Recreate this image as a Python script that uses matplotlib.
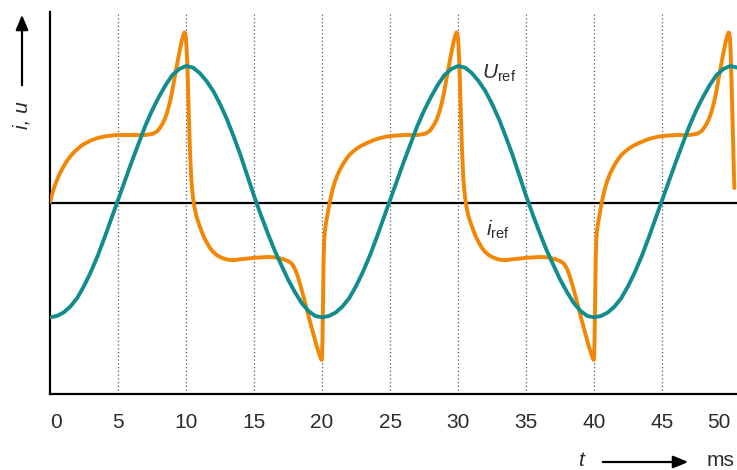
import numpy as np
import matplotlib
matplotlib.use("Agg")
import matplotlib.pyplot as plt
from matplotlib.patches import FancyArrowPatch

plt.rcParams["font.family"] = ["Liberation Sans", "DejaVu Sans"]
plt.rcParams["mathtext.fontset"] = "custom"
plt.rcParams["mathtext.rm"] = "Liberation Sans"
plt.rcParams["mathtext.it"] = "Liberation Sans:italic"

# time axis in ms
x_ticks = [0, 5, 10, 15, 20, 25, 30, 35, 40, 45, 50]
x_tick_labels = ["0", "5", "10", "15", "20", "25", "30", "35", "40", "45", "50"]
grid_ticks = [5, 10, 15, 20, 25, 30, 35, 40, 45]

# reference voltage (arbitrary units), sampled every 0.5 ms
u_t = np.arange(0, 50.51, 0.5)
u_ref = [
    -114.3, -113, -109.5, -103.5, -95, -83, -69, -53, -35, -16,
    3, 22, 41, 59, 77, 92.5, 106, 118, 128, 134,
    137, 135.5, 130, 122, 112, 99, 84, 66.5, 48, 27.5,
    7, -12, -30, -47, -62, -76.5, -89, -100, -108, -113,
    -114.3, -113, -109.5, -103.5, -95, -83, -69, -53, -35, -16,
    3, 22, 41, 59, 77, 92.5, 106, 118, 128, 134,
    137, 135.5, 130, 122, 112, 99, 84, 66.5, 48, 27.5,
    7, -12, -30, -47, -62, -76.5, -89, -100, -108, -113,
    -114.3, -113, -109.5, -103.5, -95, -83, -69, -53, -35, -16,
    3, 22, 41, 59, 77, 92.5, 106, 118, 128, 134,
    137, 135.5,
]

# reference current (same units), denser around the spikes
i_t = [
    # first half wave
    0.0, 0.1, 0.25, 0.37, 0.5, 0.65, 0.8, 1.0, 1.2, 1.4, 1.6, 1.8, 2.0, 2.25,
    2.5, 2.75, 3.0, 3.5, 4.0, 4.5, 5.0, 6.0, 7.0,
    7.5, 7.7, 7.9, 8.1, 8.3, 8.45, 8.6, 8.7, 8.8, 8.93, 9.05, 9.18, 9.3, 9.4,
    9.5, 9.6, 9.7, 9.8, 9.88,
    9.93, 9.98, 10.03, 10.08, 10.13, 10.18, 10.23, 10.28, 10.33, 10.38, 10.44,
    10.5, 10.58, 10.66, 10.75, 10.85, 11.0, 11.15, 11.3, 11.5, 11.76, 12.0,
    12.25, 12.5, 12.85, 13.2, 13.6, 14.0, 15.0, 16.0, 16.5, 16.9, 17.2, 17.5,
    17.8, 17.95, 18.1, 18.25, 18.4, 18.55, 18.7, 19.0, 19.3, 19.6, 19.75,
    19.85, 19.92, 19.97,
    20.0, 20.03, 20.06, 20.09, 20.12, 20.16, 20.2, 20.27, 20.35, 20.45, 20.55,
    20.67, 20.8, 20.95, 21.1, 21.3, 21.5, 21.75, 22.0, 22.3, 22.6, 22.95, 23.3,
    23.65, 24.0, 24.5, 25.0, 26.0, 27.0,
    # second period
    27.5, 27.7, 27.9, 28.1, 28.3, 28.45, 28.6, 28.7, 28.8, 28.93, 29.05, 29.18,
    29.3, 29.4, 29.5, 29.6, 29.7, 29.8, 29.88,
    29.93, 29.98, 30.03, 30.08, 30.13, 30.18, 30.23, 30.28, 30.33, 30.38, 30.44,
    30.5, 30.58, 30.66, 30.75, 30.85, 31.0, 31.15, 31.3, 31.5, 31.76, 32.0,
    32.25, 32.5, 32.85, 33.2, 33.6, 34.0, 35.0, 36.0, 36.5, 36.9, 37.2, 37.5,
    37.8, 37.95, 38.1, 38.25, 38.4, 38.55, 38.7, 39.0, 39.3, 39.6, 39.75,
    39.85, 39.92, 39.97,
    40.0, 40.03, 40.06, 40.09, 40.12, 40.16, 40.2, 40.27, 40.35, 40.45, 40.55,
    40.67, 40.8, 40.95, 41.1, 41.3, 41.5, 41.75, 42.0, 42.3, 42.6, 42.95, 43.3,
    43.65, 44.0, 44.5, 45.0, 46.0, 47.0,
    # last peak
    47.5, 47.7, 47.9, 48.1, 48.3, 48.45, 48.6, 48.7, 48.8, 48.93, 49.05, 49.18,
    49.3, 49.4, 49.5, 49.6, 49.7, 49.8, 49.88,
    49.93, 49.98, 50.03, 50.08, 50.13, 50.18, 50.24, 50.3,
]
i_ref = [
    # first half wave
    1, 6, 13, 18, 22.5, 27.5, 31.5, 36.5, 41, 45, 48.3, 51.2, 53.7, 56.7,
    59, 60.8, 62.5, 65, 66.5, 67.4, 68, 68, 68,
    69, 70.2, 72, 75.5, 80, 84.5, 90, 95, 100, 108, 117, 126.5, 136, 143,
    150, 156.7, 163, 168, 170.5,
    170, 166, 157, 143, 123, 98, 76, 55, 39, 25, 15,
    7, -1, -7, -12.5, -17, -23, -28.5, -33.5, -39, -45, -49,
    -52, -54, -56, -57, -57, -56.3, -54.8, -54, -54.3, -55.3, -56.5, -58,
    -61, -64.5, -69, -75, -82, -89.5, -97, -113, -128, -143, -149.5,
    -153.5, -156, -157,
    -154, -137, -107, -77, -52, -37, -29, -21.5, -15, -7.5, 0,
    7.5, 15, 21.5, 27, 33, 38, 43.5, 48, 51.7, 55, 57.7, 60,
    62, 64, 65.7, 67, 68, 68,
    # second period
    69, 70.2, 72, 75.5, 80, 84.5, 90, 95, 100, 108, 117, 126.5,
    136, 143, 150, 156.7, 163, 168, 170.5,
    170, 166, 157, 143, 123, 98, 76, 55, 39, 25, 15,
    7, -1, -7, -12.5, -17, -23, -28.5, -33.5, -39, -45, -49,
    -52, -54, -56, -57, -57, -56.3, -54.8, -54, -54.3, -55.3, -56.5, -58,
    -61, -64.5, -69, -75, -82, -89.5, -97, -113, -128, -143, -149.5,
    -153.5, -156, -157,
    -154, -137, -107, -77, -52, -37, -29, -21.5, -15, -7.5, 0,
    7.5, 15, 21.5, 27, 33, 38, 43.5, 48, 51.7, 55, 57.7, 60,
    62, 64, 65.7, 67, 68, 68,
    # last peak
    69, 70.2, 72, 75.5, 80, 84.5, 90, 95, 100, 108, 117, 126.5,
    136, 143, 150, 156.7, 163, 168, 170.5,
    170, 165, 152, 130, 105, 80, 48, 15,
]

teal = "#138c8e"
orange = "#f28705"
text_col = "#2b2b2b"

fig = plt.figure(figsize=(7.37, 4.70), dpi=100)
ax = fig.add_axes([50 / 737, 1 - 393.5 / 470, 687 / 737, 381.5 / 470])
ax.set_xlim(0, 50.5)
ax.set_ylim(-190.5, 191)

ax.vlines(grid_ticks, -190.5, 191, colors="#555555", linestyles=(0, (1, 2)),
          linewidth=0.9, zorder=1)
ax.axhline(0, color="black", lw=1.6, zorder=2)

ax.plot(i_t, i_ref, color=orange, lw=2.8, solid_capstyle="round",
        solid_joinstyle="round", zorder=3)
ax.plot(u_t, u_ref, color=teal, lw=2.8, solid_capstyle="round",
        solid_joinstyle="round", zorder=4)

ax.text(31.74, 124.7, r"$U_{\mathrm{ref}}$", fontsize=15, color=text_col,
        ha="left", va="baseline")
ax.text(32.04, -32.6, r"$i_{\mathrm{ref}}$", fontsize=15, color=text_col,
        ha="left", va="baseline")

for side in ["top", "right"]:
    ax.spines[side].set_visible(False)
for side in ["left", "bottom"]:
    ax.spines[side].set_linewidth(1.6)
    ax.spines[side].set_color("black")

ax.set_yticks([])
ax.set_xticks(x_ticks)
ax.set_xticklabels(x_tick_labels, fontsize=15, color=text_col)
ax.tick_params(axis="x", length=0, pad=14)
labels = ax.get_xticklabels()
labels[0].set_ha("left")
labels[-1].set_ha("right")

# axis captions with arrows
fig.text(22 / 737, 1 - 115 / 470, "i, u", rotation=90, style="italic",
         fontsize=15, color=text_col, ha="center", va="center")
fig.add_artist(FancyArrowPatch(
    (22 / 737, 1 - 88 / 470), (22 / 737, 1 - 12 / 470),
    transform=fig.transFigure, arrowstyle="-|>,head_length=6,head_width=2.5",
    color="black", lw=1.6, mutation_scale=1.5))

fig.text(581 / 737, 1 - 461 / 470, "t", style="italic", fontsize=15,
         color=text_col, ha="center", va="center")
fig.add_artist(FancyArrowPatch(
    (600 / 737, 1 - 462 / 470), (691 / 737, 1 - 462 / 470),
    transform=fig.transFigure, arrowstyle="-|>,head_length=6,head_width=2.5",
    color="black", lw=1.6, mutation_scale=1.5))
fig.text(720 / 737, 1 - 461 / 470, "ms", fontsize=15, color=text_col,
         ha="center", va="center")

fig.savefig("out.png", dpi=100)
